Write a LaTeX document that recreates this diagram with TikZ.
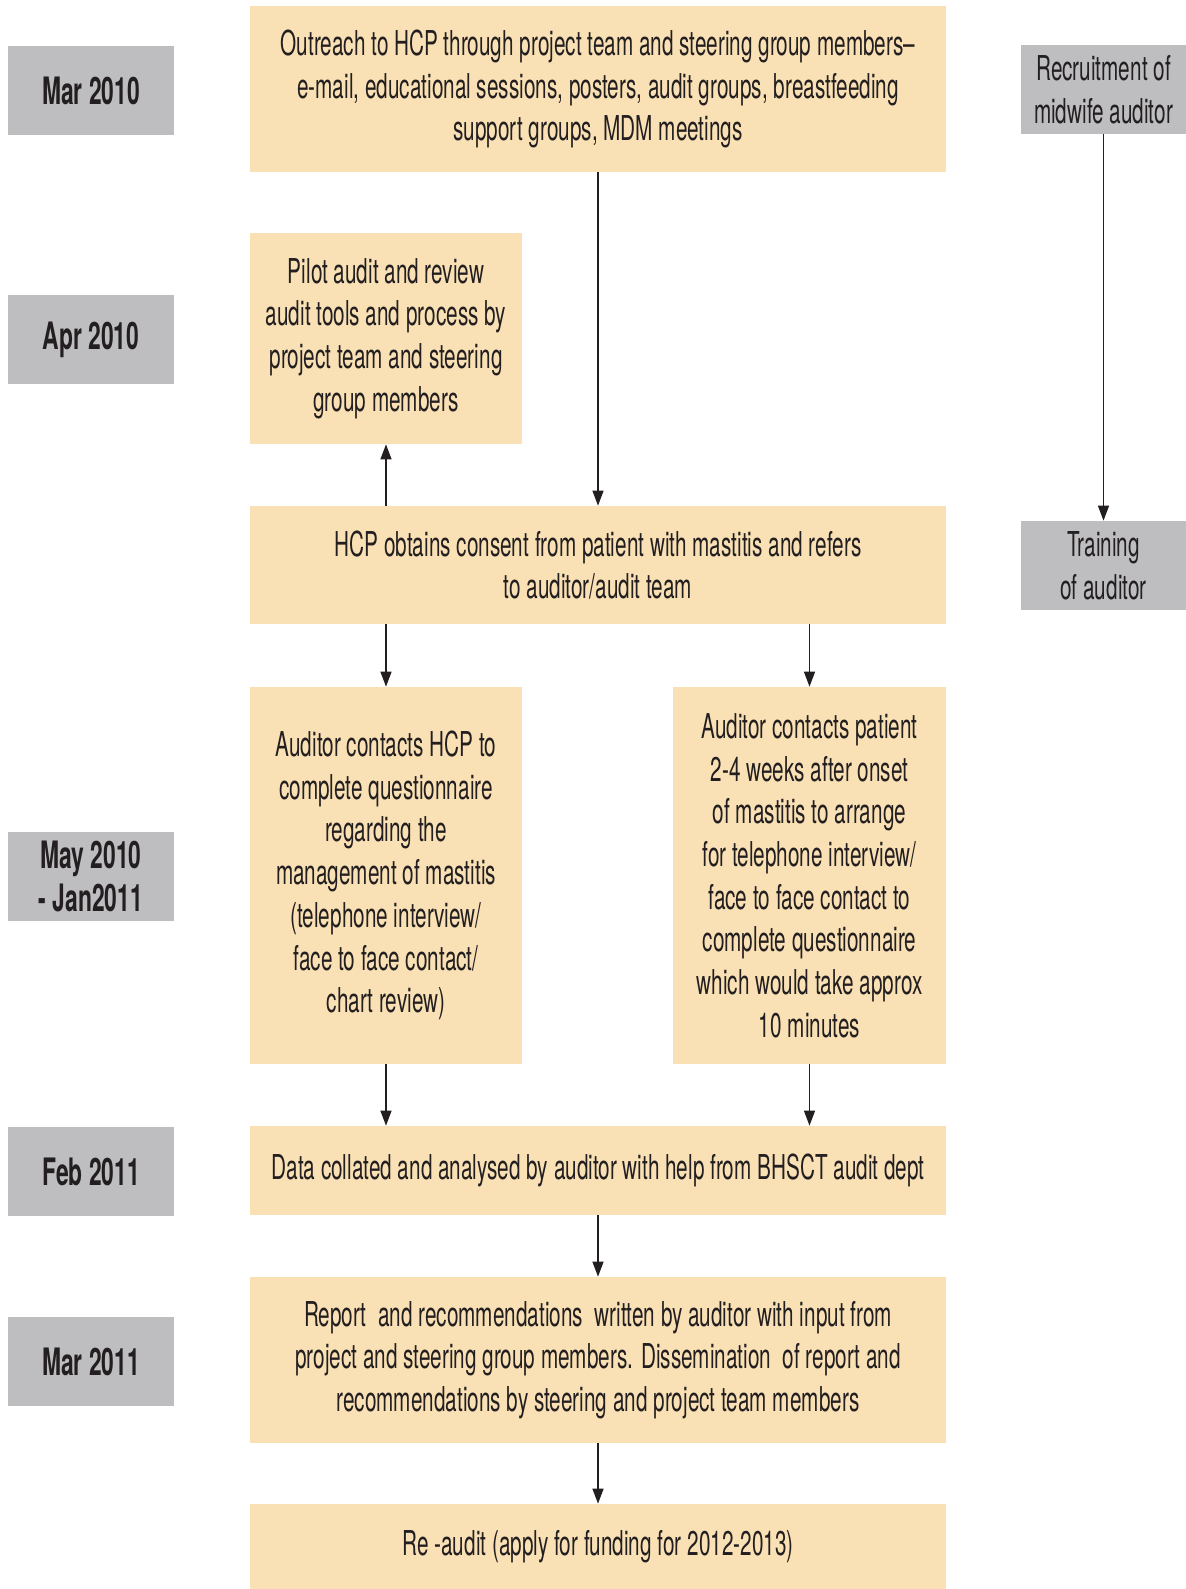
\documentclass[tikz,border=0pt]{standalone}
\usepackage{fontspec}
\setmainfont{TeX Gyre Heros}[FakeStretch=0.605]
\usepackage{tikz}
\usetikzlibrary{arrows.meta}

\definecolor{boxtan}{RGB}{249,225,181}
\definecolor{boxgrey}{RGB}{190,190,192}
\definecolor{inkdark}{RGB}{35,31,32}

\begin{document}
\begin{tikzpicture}[x=0.02cm,y=-0.02cm,
  every node/.style={inner sep=0pt,align=center,text=inkdark,
    font=\fontsize{19.5}{24.3}\selectfont},
  stage/.style={fill=boxtan},
  when/.style={fill=boxgrey,minimum width=166*0.02cm,minimum height=89*0.02cm,
    font=\fontsize{21.5}{24.3}\selectfont\bfseries},
  side/.style={fill=boxgrey,minimum width=165*0.02cm,minimum height=89*0.02cm},
  wide/.style={stage,minimum width=696*0.02cm},
  half/.style={stage,minimum width=272*0.02cm},
  arr/.style={-{Triangle[length=0.3cm,width=0.22cm]},line width=0.75pt,draw=inkdark}]
\useasboundingbox (0,0) rectangle (1186,1589);

% dates
\node[when] (d1) at (91,90.5) {Mar 2010};
\node[when] (d2) at (91,339.5) {Apr 2010};
\node[when] (d3) at (91,876.5) {May 2010\\- Jan2011};
\node[when] (d4) at (91,1171.5) {Feb 2011};
\node[when] (d5) at (91,1361.5) {Mar 2011};

% auditor side
\node[side] (recruit) at (1103.5,89.5) {Recruitment of\\midwife auditor};
\node[side] (train) at (1103.5,565.5) {Training\\of auditor};

% main flow
\node[wide,minimum height=166*0.02cm] (outreach) at (598,89) {Outreach to HCP through project team and steering group members--\\e-mail, educational sessions, posters, audit groups, breastfeeding\\support groups, MDM meetings};
\node[half,minimum height=211*0.02cm] (pilot) at (386,338.5) {Pilot audit and review\\audit tools and process by\\project team and steering\\group members};
\node[wide,minimum height=118*0.02cm] (hcp) at (598,565) {HCP obtains consent from patient with mastitis and refers\\to auditor/audit team};
\node[half,minimum height=377*0.02cm] (audhcp) at (386,875.5) {Auditor contacts HCP to\\complete questionnaire\\regarding the\\management of mastitis\\(telephone interview/\\face to face contact/\\chart review)};
\node[stage,minimum width=273*0.02cm,minimum height=377*0.02cm] (audpat) at (809.5,875.5) {Auditor contacts patient\\2-4 weeks after onset\\of mastitis to arrange\\for telephone interview/\\face to face contact to\\complete questionnaire\\which would take approx\\10 minutes};
\node[wide,minimum height=89*0.02cm] (data) at (598,1170.5) {Data collated and analysed by auditor with help from BHSCT audit dept};
\node[wide,minimum height=166*0.02cm] (report) at (598,1360) {Report\ \ and recommendations\ \ written by auditor with input from\\project and steering group members. Dissemination\ \ of report and\\recommendations by steering and project team members};
\node[wide,minimum height=85*0.02cm] (reaudit) at (598,1546.5) {Re -audit (apply for funding for 2012-2013)};

\draw[arr] (recruit)--(train);
\draw[arr] (outreach)--(hcp);
\draw[arr] (hcp.north -| pilot)--(pilot);
\draw[arr] (hcp.south -| audhcp)--(audhcp);
\draw[arr] (hcp.south -| audpat)--(audpat);
\draw[arr] (audhcp)--(data.north -| audhcp);
\draw[arr] (audpat)--(data.north -| audpat);
\draw[arr] (data)--(report);
\draw[arr] (report)--(reaudit);
\end{tikzpicture}
\end{document}
